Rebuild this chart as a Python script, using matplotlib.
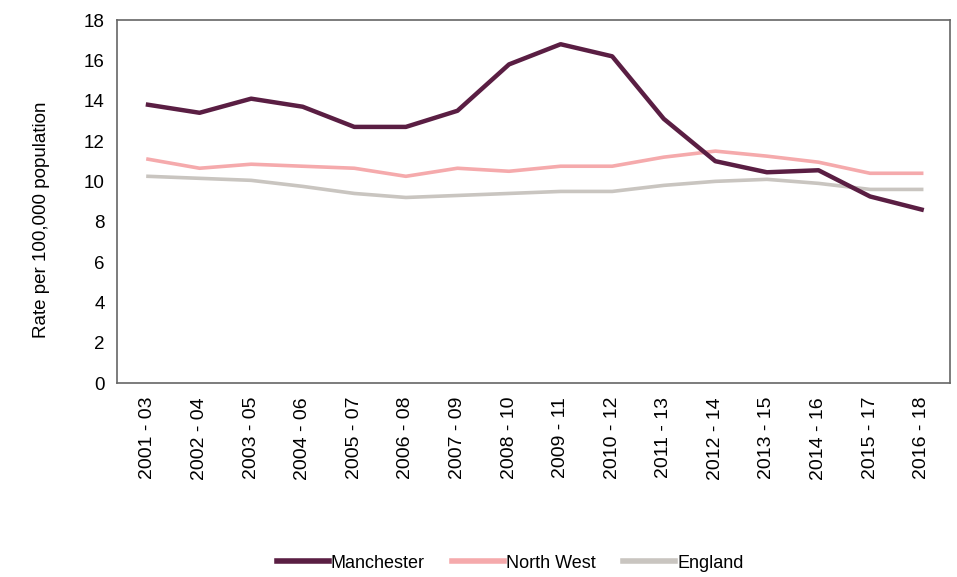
import matplotlib
matplotlib.use("Agg")
import matplotlib.pyplot as plt
import numpy as np

plt.rcParams['font.family'] = ['Liberation Sans', 'DejaVu Sans']

# periodos de tres anos
periods = ['2001 - 03', '2002 - 04', '2003 - 05', '2004 - 06', '2005 - 07',
           '2006 - 08', '2007 - 09', '2008 - 10', '2009 - 11', '2010 - 12',
           '2011 - 13', '2012 - 14', '2013 - 15', '2014 - 16', '2015 - 17',
           '2016 - 18']

manchester = [13.8, 13.4, 14.1, 13.7, 12.7, 12.7, 13.5, 15.8, 16.8, 16.2,
              13.1, 11.0, 10.45, 10.55, 9.25, 8.6]
north_west = [11.1, 10.65, 10.85, 10.75, 10.65, 10.25, 10.65, 10.5, 10.75, 10.75,
              11.2, 11.5, 11.25, 10.95, 10.4, 10.4]
england = [10.25, 10.15, 10.05, 9.75, 9.4, 9.2, 9.3, 9.4, 9.5, 9.5,
           9.8, 10.0, 10.1, 9.9, 9.6, 9.6]

x = np.arange(len(periods))

fig = plt.figure(figsize=(9.57, 5.77), dpi=100)
ax = fig.add_axes([0.1223, 0.3362, 0.8704, 0.6291])

ax.plot(x, england, color='#c9c5c0', lw=2.6, label='England', zorder=2)
ax.plot(x, north_west, color='#f5aaac', lw=2.6, label='North West', zorder=3)
ax.plot(x, manchester, color='#5a1e43', lw=3.2, label='Manchester', zorder=4)

ax.set_xlim(-0.6, len(periods) - 1 + 0.55)
ax.set_ylim(0, 18)
ax.set_yticks(range(0, 19, 2))
ax.set_xticks(x)
ax.set_xticklabels(periods, rotation=90, fontsize=14)
ax.tick_params(axis='y', labelsize=13.5, length=0, pad=9)
ax.tick_params(axis='x', length=0, pad=10)
ax.set_ylabel('Rate per 100,000 population', fontsize=13.5, labelpad=24, y=0.45)

for s in ax.spines.values():
    s.set_color('#666666')
    s.set_linewidth(1.2)

h, l = ax.get_legend_handles_labels()
order = [2, 1, 0]
fig.legend([h[i] for i in order], [l[i] for i in order], loc='center',
           bbox_to_anchor=(0.533, 0.024), ncol=3, frameon=False, fontsize=13,
           handlelength=2.9, handletextpad=0.1, columnspacing=1.5)
for ln in fig.legends[0].get_lines():
    ln.set_linewidth(4)

fig.savefig('out.png', dpi=100)
